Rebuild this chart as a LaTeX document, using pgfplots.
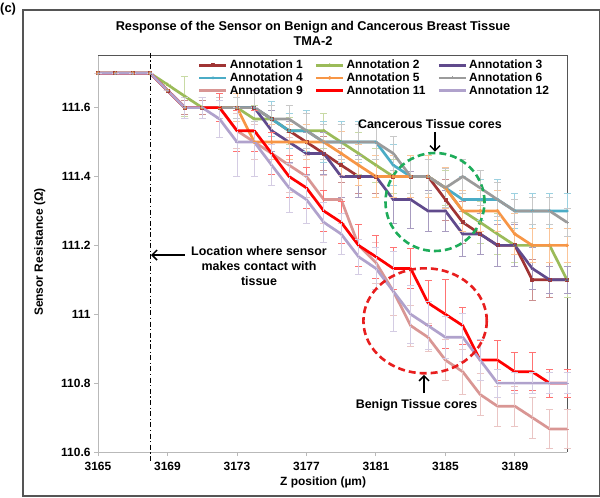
\documentclass[border=0pt]{standalone}
\usepackage{fontspec}
\setmainfont{Liberation Sans}
\usepackage{pgfplots}
\usepackage{pgfplotstable}
\pgfplotsset{compat=1.18}
\usetikzlibrary{arrows.meta}

\definecolor{cA}{RGB}{160,52,52}
\definecolor{cB}{RGB}{155,187,89}
\definecolor{cC}{RGB}{96,74,140}
\definecolor{cD}{RGB}{75,172,198}
\definecolor{cE}{RGB}{247,150,70}
\definecolor{cF}{RGB}{155,155,155}
\definecolor{cI}{RGB}{217,150,148}
\definecolor{cK}{RGB}{255,0,0}
\definecolor{cL}{RGB}{176,162,204}
\definecolor{circG}{RGB}{30,172,90}
\definecolor{circR}{RGB}{232,30,30}
\definecolor{frame}{RGB}{85,85,85}

% x, then value and error of annotations 1,2,3,4,5,6,9,11,12
\pgfplotstableread{
x    y1 e1  y2 e2  y3 e3  y4 e4  y5 e5  y6 e6  y9 e9  y11 e11  y12 e12
3165 111.7 0 111.7 0 111.7 0 111.7 0 111.7 0 111.7 0 111.7 0 111.7 0 111.7 0
3166 111.7 0 111.7 0 111.7 0 111.7 0 111.7 0 111.7 0 111.7 0 111.7 0 111.7 0
3167 111.7 0 111.7 0 111.7 0 111.7 0 111.7 0 111.7 0 111.7 0 111.7 0 111.7 0
3168 111.7 0 111.7 0 111.7 0 111.7 0 111.7 0 111.7 0 111.7 0 111.7 0 111.7 0
3169 111.65 0 111.667 0 111.65 0 111.65 0 111.65 0 111.65 0 111.65 0 111.65 0 111.65 0
3170 111.6 .02 111.633 .057 111.6 .03 111.6 .03 111.6 .03 111.6 .03 111.6 .03 111.6 .03 111.6 .03
3171 111.6 .02 111.6 .03 111.6 .03 111.6 .03 111.6 .03 111.6 .03 111.6 .03 111.6 .03 111.6 .03
3172 111.6 .03 111.6 .03 111.6 .04 111.6 .03 111.6 .04 111.6 .03 111.6 .04 111.6 .04 111.567 .053
3173 111.6 .03 111.6 .03 111.6 .04 111.6 .04 111.6 .04 111.6 .03 111.533 .05 111.533 .06 111.5 .1
3174 111.6 .04 111.567 .04 111.6 .05 111.6 .04 111.5 .05 111.6 .04 111.5 .05 111.533 .06 111.5 .1
3175 111.567 .04 111.567 .04 111.533 .06 111.567 .05 111.5 .05 111.567 .04 111.467 .06 111.467 .06 111.433 .06
3176 111.533 .05 111.533 .04 111.5 .06 111.533 .05 111.5 .05 111.567 .04 111.433 .08 111.4 .06 111.367 .07
3177 111.5 .05 111.533 .05 111.467 .06 111.533 .06 111.5 .05 111.533 .05 111.4 .06 111.367 .06 111.333 .07
3178 111.467 .05 111.533 .05 111.467 .06 111.5 .06 111.5 .05 111.5 .05 111.333 .07 111.3 .06 111.267 .058
3179 111.433 .05 111.5 .05 111.4 .06 111.5 .06 111.467 .063 111.5 .05 111.333 .07 111.267 .06 111.233 .06
3180 111.4 .05 111.467 .06 111.4 .06 111.5 .06 111.433 .06 111.5 .05 111.2 .06 111.2 .06 111.167 .05
3181 111.4 .05 111.433 .05 111.4 .06 111.5 .05 111.4 .06 111.5 .05 111.15 .06 111.167 .063 111.133 .06
3182 111.4 .05 111.4 .05 111.333 .07 111.433 .06 111.4 .06 111.467 .05 111.067 .07 111.133 .06 111.067 .117
3183 111.4 .05 111.4 .05 111.333 .083 111.4 .06 111.4 .06 111.4 .05 110.967 .06 111.133 .058 111.0 .085
3184 111.4 .05 111.4 .05 111.3 .06 111.4 .06 111.4 .06 111.4 .05 110.933 .04 111.033 .065 110.967 .07
3185 111.333 .06 111.367 .05 111.3 .06 111.367 .06 111.367 .06 111.367 .058 110.867 .06 111.0 .1 110.933 .06
3186 111.267 .06 111.3 .06 111.233 .065 111.333 .068 111.3 .06 111.4 .05 110.833 .065 110.967 .054 110.933 .07
3187 111.233 .06 111.267 .06 111.233 .06 111.333 .06 111.3 .06 111.367 .05 110.767 .06 110.867 .058 110.867 .06
3188 111.2 .06 111.233 .06 111.2 .06 111.333 .06 111.3 .06 111.333 .05 110.733 .058 110.867 .058 110.8 .04
3189 111.2 .06 111.2 .05 111.2 .06 111.3 .05 111.233 .06 111.3 .034 110.733 .058 110.833 .055 110.8 .03
3190 111.1 .06 111.2 .05 111.133 .06 111.3 .05 111.2 .05 111.3 .04 110.7 .06 110.833 .055 110.8 .03
3191 111.1 .05 111.2 .05 111.1 .04 111.3 .05 111.2 .05 111.3 .04 110.667 .058 110.8 .04 110.8 .03
3192 111.1 .05 111.1 .05 111.1 .04 111.3 .05 111.2 .05 111.267 .04 110.667 .058 110.8 .04 110.8 .03
}\sensor

\pgfplotsset{
  ann/.style={color=#1, line width=2.7bp, line join=round,
    mark size=1.5bp, mark options={solid, line width=0.8bp, fill=#1},
    error bars/y dir=both, error bars/y explicit,
    error bars/error bar style={#1!55, line width=0.8bp},
    error bars/error mark options={#1!55, rotate=90, mark size=3.5bp, line width=0.8bp}},
}

\begin{document}
\begin{tikzpicture}
\path[use as bounding box] (0bp,0bp) rectangle (600bp,498bp);
\draw[frame, line width=1.2bp] (23bp,488bp) rectangle (599.4bp,2bp);
\node[anchor=west, inner sep=0pt, font=\bfseries\fontsize{13}{15}\selectfont] at (0bp,489bp) {(c)};
\node[align=center, font=\bfseries\fontsize{12.8}{15}\selectfont] at (313bp,464.5bp)
  {Response of the Sensor on Benign and Cancerous Breast Tissue\\TMA-2};

\begin{axis}[
  at={(98bp,46bp)}, anchor=south west, scale only axis,
  width=469bp, height=396bp,
  xmin=3165, xmax=3192, ymin=110.6, ymax=111.75,
  xtick={3165,3169,3173,3177,3181,3185,3189},
  ytick={110.6,110.8,111,111.2,111.4,111.6},
  axis x line*=bottom, axis y line*=left,
  axis line style={gray!55, line width=0.9bp},
  tick style={gray!55, line width=0.9bp}, major tick length=4bp,
  tick align=outside,
  ticklabel style={font=\bfseries\fontsize{12}{14}\selectfont},
  xticklabel style={yshift=-3bp},
  /pgf/number format/assume math mode=true,
  /pgf/number format/1000 sep={},
  xlabel={Z position (µm)}, ylabel={Sensor Resistance (Ω)},
  label style={font=\bfseries\fontsize{12}{14}\selectfont},
  xlabel style={at={(axis description cs:0.48,-0.078)}, anchor=center},
  ylabel style={at={(axis description cs:-0.124,0.505)}, anchor=center},
  clip=false,
  legend columns=3, legend cell align=left,
  legend style={at={(axis description cs:0.213,0.995)}, anchor=north west,
    draw=none, fill=none, inner sep=0pt,
    font=\bfseries\fontsize{12}{14}\selectfont,
    /tikz/every even column/.append style={column sep=10bp},
    row sep=-1.5bp},
  legend image code/.code={\draw[mark repeat=2,mark phase=2,#1]
    plot coordinates {(0bp,0bp) (13.5bp,0bp) (27bp,0bp)};},
]
\draw[frame, line width=1bp] (rel axis cs:0,1) -- (rel axis cs:1,1) -- (rel axis cs:1,0);

\addplot[ann=cA, mark=square*] table[x=x, y=y1, y error=e1] {\sensor};
\addplot[ann=cB, mark=triangle*] table[x=x, y=y2, y error=e2] {\sensor};
\addplot[ann=cC, mark=x] table[x=x, y=y3, y error=e3] {\sensor};
\addplot[ann=cD, mark=asterisk] table[x=x, y=y4, y error=e4] {\sensor};
\addplot[ann=cE, mark=*] table[x=x, y=y5, y error=e5] {\sensor};
\addplot[ann=cF, mark=+] table[x=x, y=y6, y error=e6] {\sensor};
\addplot[ann=cI, mark=-] table[x=x, y=y9, y error=e9] {\sensor};
\addplot[ann=cK, mark=-] table[x=x, y=y11, y error=e11] {\sensor};
\addplot[ann=cL, mark=-] table[x=x, y=y12, y error=e12] {\sensor};
\legend{Annotation 1,Annotation 2,Annotation 3,Annotation 4,Annotation 5,
  Annotation 6,Annotation 9,Annotation 11,Annotation 12}

% contact line and notes
\draw[black, line width=1.2bp, dash pattern=on 5bp off 2.5bp on 1.2bp off 2.5bp]
  (axis cs:3168,111.759) -- (axis cs:3168,110.571);
\draw[black, line width=1.5bp, -{Straight Barb[length=5bp,width=10bp]}]
  (axis cs:3170.0,111.172) -- (axis cs:3168.05,111.172);
\node[align=center, font=\bfseries\fontsize{12.5}{15}\selectfont]
  at (axis cs:3174.27,111.141) {Location where sensor\\makes contact with\\tissue};

\draw[circG, line width=2.6bp, dash pattern=on 7bp off 4bp]
  (axis cs:3184.4,111.326) ellipse [x radius=49.5bp, y radius=49bp];
\node[font=\bfseries\fontsize{12.5}{15}\selectfont]
  at (axis cs:3184.11,111.553) {Cancerous Tissue cores};
\draw[black, line width=1.5bp, -{Straight Barb[length=5bp,width=10bp]}]
  (axis cs:3184.4,111.530) -- (axis cs:3184.4,111.472);

\draw[circR, line width=2.6bp, dash pattern=on 7bp off 4bp]
  (axis cs:3183.83,110.981) ellipse [x radius=61.7bp, y radius=52.5bp];
\node[font=\bfseries\fontsize{12.5}{15}\selectfont]
  at (axis cs:3183.34,110.7365) {Benign Tissue cores};
\draw[black, line width=1.5bp, -{Straight Barb[length=5bp,width=10bp]}]
  (axis cs:3183.77,110.771) -- (axis cs:3183.77,110.824);
\end{axis}
\end{tikzpicture}
\end{document}
